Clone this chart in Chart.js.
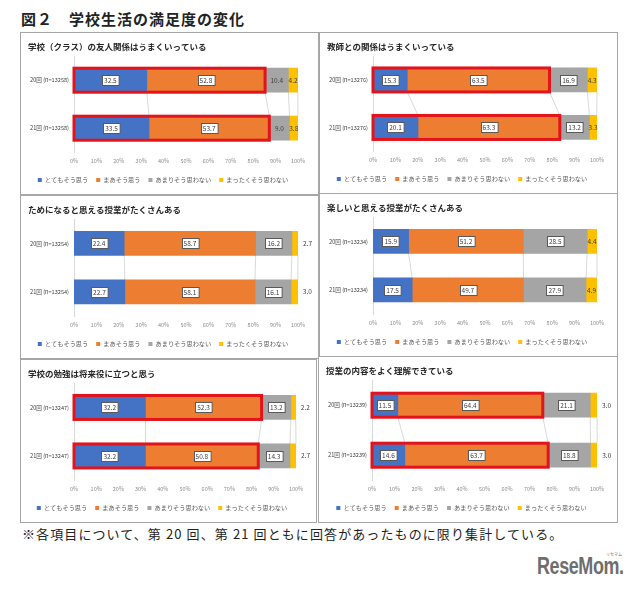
<!DOCTYPE html>
<html><head><meta charset="utf-8">
<script src="https://cdn.jsdelivr.net/npm/chart.js@4.4.1/dist/chart.umd.min.js"></script>
<style>
body{margin:0;background:#fff;width:640px;height:594px;position:relative;overflow:hidden;font-family:"Noto Sans CJK JP",sans-serif;}
.panel{position:absolute;box-sizing:border-box;border:1px solid #a6a6a6;background:#fff;}
.inner{position:relative;width:100%;height:100%;}
#title{position:absolute;left:21px;top:8px;font-size:15px;font-weight:bold;letter-spacing:1px;color:#222;white-space:nowrap;}
#note{position:absolute;left:22px;top:524px;font-size:13px;letter-spacing:1.1px;color:#222;white-space:nowrap;}
#logo{position:absolute;left:537px;top:553px;font-family:"Liberation Sans","Roboto",sans-serif;font-weight:bold;font-size:23px;color:#6e6e6e;letter-spacing:-0.5px;white-space:nowrap;transform:scaleX(0.78);transform-origin:left top;}
#kana{position:absolute;left:606px;top:551px;font-size:4px;color:#6e6e6e;white-space:nowrap;}
</style></head>
<body>
<div id="title">図２　学校生活の満足度の変化</div>
<div class="panel" style="left:20px;top:32px;width:299px;height:163px"><div class="inner"><canvas id="c1"></canvas></div></div>
<div class="panel" style="left:319px;top:32px;width:299px;height:162px"><div class="inner"><canvas id="c2"></canvas></div></div>
<div class="panel" style="left:20px;top:195px;width:299px;height:164px"><div class="inner"><canvas id="c3"></canvas></div></div>
<div class="panel" style="left:319px;top:193px;width:299px;height:164px"><div class="inner"><canvas id="c4"></canvas></div></div>
<div class="panel" style="left:20px;top:359px;width:297px;height:164px"><div class="inner"><canvas id="c5"></canvas></div></div>
<div class="panel" style="left:318px;top:356px;width:300px;height:167px"><div class="inner"><canvas id="c6"></canvas></div></div>
<div id="note">※各項目について、第 20 回、第 21 回ともに回答があったものに限り集計している。</div>
<div id="kana">リセマム</div>
<div id="logo">ReseMom.</div>
<script>
// ---- data ----
const seriesNames = ['とてもそう思う','まあそう思う','あまりそう思わない','まったくそう思わない'];
const xTickValues = [0,10,20,30,40,50,60,70,80,90,100];

const title1 = '学校（クラス）の友人関係はうまくいっている';
const cats1 = ['20回 (n=13258)','21回 (n=13258)'];
const very1 = [32.5,33.5], some1 = [52.8,53.7], notMuch1 = [10.4,9.0], never1 = [4.2,3.8];

const title2 = '教師との関係はうまくいっている';
const cats2 = ['20回 (n=13276)','21回 (n=13276)'];
const very2 = [15.3,20.1], some2 = [63.5,63.3], notMuch2 = [16.9,13.2], never2 = [4.3,3.3];

const title3 = 'ためになると思える授業がたくさんある';
const cats3 = ['20回 (n=13254)','21回 (n=13254)'];
const very3 = [22.4,22.7], some3 = [58.7,58.1], notMuch3 = [16.2,16.1], never3 = [2.7,3.0];

const title4 = '楽しいと思える授業がたくさんある';
const cats4 = ['20回 (n=13234)','21回 (n=13234)'];
const very4 = [15.9,17.5], some4 = [51.2,49.7], notMuch4 = [28.5,27.9], never4 = [4.4,4.9];

const title5 = '学校の勉強は将来役に立つと思う';
const cats5 = ['20回 (n=13247)','21回 (n=13247)'];
const very5 = [32.2,32.2], some5 = [52.3,50.8], notMuch5 = [13.2,14.3], never5 = [2.2,2.7];

const title6 = '授業の内容をよく理解できている';
const cats6 = ['20回 (n=13239)','21回 (n=13239)'];
const very6 = [11.5,14.6], some6 = [64.4,63.7], notMuch6 = [21.1,18.8], never6 = [3.0,3.0];

// ---- style ----
const FONT = '"Noto Sans CJK JP", sans-serif';
const COLORS = ['#4472C4','#ED7D31','#A5A5A5','#FFC000'];

const decor = {
  id:'decor',
  beforeDatasetsDraw(chart){
    const ctx = chart.ctx;
    ctx.save();
    ctx.strokeStyle = '#cfcfcf'; ctx.lineWidth = 0.8;
    chart.data.datasets.forEach((d,i)=>{
      const m = chart.getDatasetMeta(i);
      const a = m.data[0].getProps(['x','y','height'],true);
      const b = m.data[1].getProps(['x','y','height'],true);
      ctx.beginPath();
      ctx.moveTo(a.x, a.y + a.height/2);
      ctx.lineTo(b.x, b.y - b.height/2);
      ctx.stroke();
    });
    ctx.restore();
  },
  afterDatasetsDraw(chart, args, opts){
    const ctx = chart.ctx;
    ctx.save();
    if (opts.highlight){
      ctx.strokeStyle = '#E3131B'; ctx.lineWidth = 3;
      for (let j=0;j<2;j++){
        const a = chart.getDatasetMeta(0).data[j].getProps(['base','y','height'],true);
        const b = chart.getDatasetMeta(1).data[j].getProps(['x'],true);
        ctx.strokeRect(a.base, a.y - a.height/2, b.x - a.base, a.height);
      }
    }
    ctx.font = '6.5px ' + FONT;
    ctx.textBaseline = 'middle';
    chart.data.datasets.forEach((d,i)=>{
      const m = chart.getDatasetMeta(i);
      m.data.forEach((el,j)=>{
        const p = el.getProps(['x','y','base','height'],true);
        const txt = d.data[j].toFixed(1);
        const w = ctx.measureText(txt).width;
        if (i===3 && opts.outside){
          ctx.fillStyle = '#404040'; ctx.textAlign='left';
          ctx.fillText(txt, p.x + 5, p.y);
          return;
        }
        const cx = (p.x + p.base)/2;
        if (opts.boxed[i]){
          ctx.fillStyle = '#fff'; ctx.strokeStyle = '#595959'; ctx.lineWidth = 1;
          const bw = w + 4, bh = 10;
          ctx.fillRect(Math.round(cx - bw/2)+0.5, Math.round(p.y - bh/2)+0.5, bw, bh);
          ctx.strokeRect(Math.round(cx - bw/2)+0.5, Math.round(p.y - bh/2)+0.5, bw, bh);
        }
        ctx.fillStyle = '#404040'; ctx.textAlign='center';
        ctx.fillText(txt, cx, p.y + 0.5);
      });
    });
    ctx.restore();
  }
};

function makeChart(id, title, cats, series, opts){
  new Chart(document.getElementById(id), {
    type:'bar',
    data:{
      labels:cats,
      datasets: series.map((vals,i)=>({label:seriesNames[i], data:vals, backgroundColor:COLORS[i], borderWidth:0, barThickness:24}))
    },
    options:{
      indexAxis:'y', responsive:true, maintainAspectRatio:false, animation:false,
      layout:{padding:{left:7,right:20,top:0,bottom:1}},
      scales:{
        x:{stacked:true,min:0,max:100,afterBuildTicks(s){s.ticks = xTickValues.map(v=>({value:v}));},
           grid:{display:false,drawTicks:false},border:{display:false},
           ticks:{callback:v=>v+'%',font:{size:5.5,family:FONT},color:'#8c8c8c',padding:5,maxRotation:0,autoSkip:false}},
        y:{stacked:true,grid:{display:false,drawTicks:false},border:{display:true,color:'#d9d9d9',width:1},
           ticks:{font:{size:5.6,family:FONT},color:'#404040',padding:5},
           afterFit(s){s.width = 46;}}
      },
      plugins:{
        title:{display:true,text:title,align:'start',font:{size:8.5,weight:'bold',family:FONT},color:'#262626',padding:{top:9,bottom:4}},
        legend:{position:'bottom',labels:{usePointStyle:true,pointStyle:'rect',boxWidth:4,boxHeight:4,font:{size:6.2,family:FONT},color:'#595959',padding:8}},
        tooltip:{enabled:false},
        decor:opts
      }
    },
    plugins:[decor]
  });
}

makeChart('c1', title1, cats1, [very1,some1,notMuch1,never1], {highlight:true, boxed:[true,true,false,false], outside:false});
makeChart('c2', title2, cats2, [very2,some2,notMuch2,never2], {highlight:true, boxed:[true,true,true,false], outside:false});
makeChart('c3', title3, cats3, [very3,some3,notMuch3,never3], {highlight:false, boxed:[true,true,true,false], outside:true});
makeChart('c4', title4, cats4, [very4,some4,notMuch4,never4], {highlight:false, boxed:[true,true,true,false], outside:false});
makeChart('c5', title5, cats5, [very5,some5,notMuch5,never5], {highlight:true, boxed:[true,true,true,false], outside:true});
makeChart('c6', title6, cats6, [very6,some6,notMuch6,never6], {highlight:true, boxed:[true,true,true,false], outside:true});
</script>
</body></html>
